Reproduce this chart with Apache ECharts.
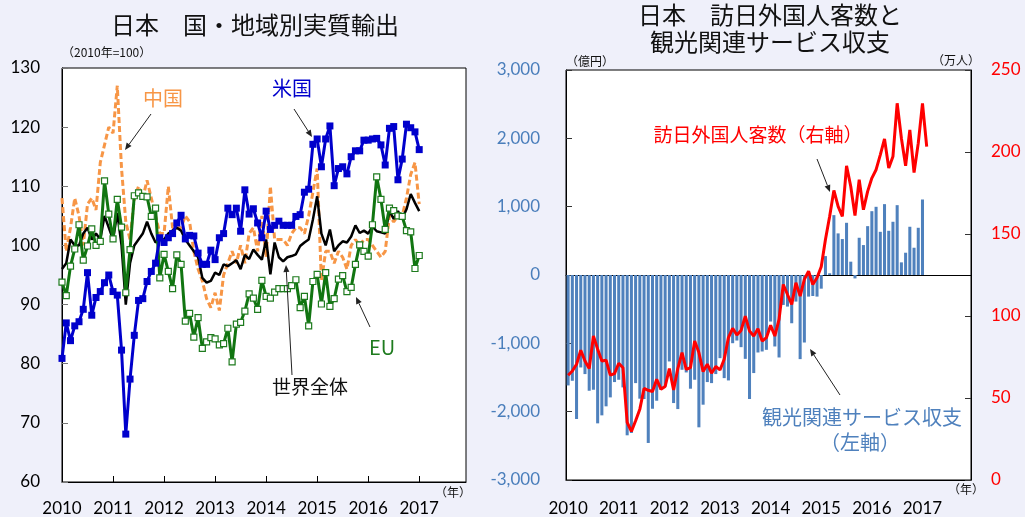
<!DOCTYPE html>
<html><head><meta charset="utf-8">
<script src="https://cdn.jsdelivr.net/npm/echarts@6/dist/echarts.min.js"></script>
<style>html,body{margin:0;padding:0;background:#eff0fa;}#c{width:1025px;height:517px;}</style>
</head><body><div id="c"></div>
<script>
// ---- data ----
const yearLabels = ['2010','2011','2012','2013','2014','2015','2016','2017'];
const months = [];
yearLabels.forEach(y => { for (let m = 1; m <= 12; m++) months.push(y + '-' + m); });

// 日本 国・地域別実質輸出 (2010年=100), monthly from 2010-01 to 2017-01
const usExports = [80.9,86.9,83.9,86.4,87.1,89.2,95.4,88.2,91.2,92.2,93.7,95.0,
  92.2,91.6,82.3,68.1,77.4,84.8,90.7,91.0,93.9,95.6,97.0,101.3,
  100.5,101.3,102.0,103.8,105.1,101.1,101.7,101.6,98.7,96.8,96.8,99.2,
  97.6,101.3,102.0,106.3,105.2,106.3,102.4,109.4,105.3,106.2,103.8,101.3,
  105.8,102.7,103.4,104.1,103.4,103.4,103.4,104.9,105.2,109.0,109.5,117.1,
  118.0,113.3,118.0,120.2,110.1,113.0,113.3,112.1,115.0,116.0,116.0,117.8,
  117.8,118.0,118.1,117.0,113.6,119.8,120.1,111.1,114.6,120.5,119.9,119.2,116.2];
const chinaExports = [108,99,103,108,105,100,107,108,106,114,117,120,
  119,127,113,104,101,108,110,108,111,108,105,102,
  102,110,103,103,103,105,104,99,96,94,91,89.5,
  92,89,95,97,99,97,100,97,102,103,99,105,
  98,110,101,101,101,100,102,103,103,102,105,109,
  113,94,99,99,97,99,98,96,100,101,100,101,
  101,100,99,98,99,105,104,105,105,108,112,114,107];
const euExports = [93.8,91.5,96.5,99.4,103.5,97.5,99.9,102.8,100.0,100.7,110.9,105.3,
  101.1,107.8,103.1,92.0,99.3,108.4,108.9,108.3,108.2,104.9,106.3,94.5,
  98.5,95.6,92.7,98.4,96.8,87.2,88.5,84.5,87.8,82.6,83.7,84.4,
  84.2,83.2,83.4,86.0,80.3,86.7,87.0,88.9,91.8,91.1,89.2,94.1,
  91.4,91.1,92.1,92.7,92.7,92.7,93.2,94.2,89.5,91.4,86.4,93.9,
  95.1,90.1,95.4,89.7,91.0,94.3,94.9,92.2,92.9,96.8,100.1,99.0,
  98.2,103.5,111.6,107.8,102.7,106.3,105.9,105.0,104.9,102.5,102.3,96.1,98.3];
const worldExports = [96,97,101,100,100,102,103,101,102,101,105,103,
  101,105.5,100,90,97,100,101,102,104,102,100.5,101,
  101,102,102.5,103,102.5,101,100,99,98,94.5,93.7,94,
  95.4,95,96.8,96.5,97,97.5,96,98.4,97.7,99.3,98.4,97.6,
  101,95.1,100.5,98,97.3,98,98.2,98.5,99.9,100.5,101,104.4,
  108.3,102,100,102.7,99,100,100.7,100.5,101.5,103.4,102.1,102.5,
  102,103.2,102.4,102.2,102,105.8,104.5,105.8,104.5,106.1,108.7,107.2,105.8];

// 観光関連サービス収支 (億円), 2010-01 to 2017-01
const tourismBalance = [-1616,-1548,-2107,-1353,-1450,-1694,-1679,-2171,-2054,-1922,-1791,-1567,
  -1533,-1645,-2346,-2312,-1582,-1810,-1815,-2458,-1956,-1840,-1679,-1630,
  -1265,-1874,-1962,-1387,-1426,-1664,-1533,-2229,-1898,-1567,-1582,-1450,
  -1217,-1509,-1543,-998,-959,-1056,-1227,-1815,-1435,-1134,-1119,-1095,
  -681,-1046,-1207,-438,-462,-706,-389,-1231,-988,-316,-307,-316,
  -200,277,25,876,609,526,764,195,-50,545,438,715,
  934,998,632,1037,647,779,1022,185,326,706,399,691,1105];
// 訪日外国人客数 (万人), 2010-01 to 2017-02
const visitors = [63.9,66.5,70.6,79.1,72.6,67.9,87.8,79.7,72.6,73.0,63.9,64.9,
  71.2,68.5,35.1,29.6,36.1,43.2,55.8,54.7,54.0,61.4,55.4,57.0,
  67.9,54.9,67.9,77.7,67.5,68.5,84.7,77.7,66.1,70.6,65.1,69.2,
  67.1,73.6,86.8,92.5,88.4,91.2,99.9,90.8,87.8,92.3,84.7,86.8,
  94.3,87.8,97.9,119.2,113.1,107.1,120.3,112.1,122.3,127.3,119.2,123.3,
  130,146.6,160.8,176.6,166.8,160.8,191.6,179.0,161.2,183.1,164.8,176.0,
  184.1,189.2,198.3,208.0,190.2,197.3,229.7,208.4,191.6,213.5,187.5,205.4,229.7,203.3];

// ---- chart ----
const JP = "'Noto Sans CJK JP', sans-serif";
const NUM = "Lato, 'Noto Sans CJK JP', sans-serif";
const chart = echarts.init(document.getElementById('c'), null, {renderer: 'canvas'});

function arrow(x1, y1, x2, y2) {
  const a = Math.atan2(y2 - y1, x2 - x1), L = 7, W = 3;
  const bx = x2 - L * Math.cos(a), by = y2 - L * Math.sin(a);
  return [
    {type: 'line', shape: {x1, y1, x2: bx, y2: by}, style: {stroke: '#222', lineWidth: 1}, z: 100},
    {type: 'polygon', shape: {points: [[x2, y2], [bx - W * Math.sin(a), by + W * Math.cos(a)], [bx + W * Math.sin(a), by - W * Math.cos(a)]]}, style: {fill: '#222'}, z: 100}
  ];
}
function txt(x, y, text, color, size, align) {
  return {type: 'text', x, y, z: 100, style: {text, fill: color, font: size + 'px ' + JP, align: align || 'center', verticalAlign: 'middle'}};
}
const yearFmt = (v, i) => (i % 12 === 0 ? yearLabels[i / 12] : '');

const option = {
  backgroundColor: '#eff0fa',
  animation: false,
  grid: [
    {left: 62, right: 559, top: 68, bottom: 34, show: true, backgroundColor: '#fff', borderColor: '#000', borderWidth: 1},
    {left: 566, right: 54, top: 70, bottom: 36, show: true, backgroundColor: '#fff', borderColor: '#000', borderWidth: 1}
  ],
  xAxis: [
    {type: 'category', gridIndex: 0, data: months, boundaryGap: false,
     axisLine: {lineStyle: {color: '#000'}},
     axisTick: {inside: true, interval: 11, length: 6, lineStyle: {color: '#000'}},
     axisLabel: {interval: 11, formatter: yearFmt, fontSize: 17, color: '#000', fontFamily: NUM, margin: 18}},
    {type: 'category', gridIndex: 1, data: months, boundaryGap: true, position: 'bottom',
     axisLine: {onZero: false, lineStyle: {color: '#000'}},
     axisTick: {show: false},
     axisLabel: {interval: 11, formatter: yearFmt, fontSize: 17, color: '#000', fontFamily: NUM, margin: 20}},
    {type: 'category', gridIndex: 1, data: months, boundaryGap: true, position: 'bottom',
     axisLine: {onZero: true, lineStyle: {color: '#000', width: 1}},
     axisTick: {inside: true, interval: 11, length: 6, lineStyle: {color: '#000'}},
     axisLabel: {show: false}}
  ],
  yAxis: [
    {type: 'value', gridIndex: 0, min: 60, max: 130, interval: 10,
     axisLine: {show: true, lineStyle: {color: '#000'}},
     axisTick: {show: true, inside: true, length: 6, lineStyle: {color: '#777'}},
     splitLine: {show: false},
     axisLabel: {fontSize: 17, color: '#000', fontFamily: NUM, margin: 22}},
    {type: 'value', gridIndex: 1, min: -3000, max: 3000, interval: 1000,
     axisLine: {show: true, lineStyle: {color: '#000'}},
     axisTick: {show: true, inside: true, length: 6, lineStyle: {color: '#333'}},
     splitLine: {show: false},
     axisLabel: {fontSize: 17, color: '#4a7ebb', fontFamily: NUM, margin: 26,
       formatter: v => v.toLocaleString('en-US')}},
    {type: 'value', gridIndex: 1, min: 0, max: 250, interval: 50, position: 'right',
     axisLine: {show: true, onZero: false, lineStyle: {color: '#000'}},
     axisTick: {show: true, inside: true, length: 6, lineStyle: {color: '#333'}},
     splitLine: {show: false},
     axisLabel: {fontSize: 17, color: '#ff0000', fontFamily: NUM, margin: 20}}
  ],
  series: [
    {name: '中国', type: 'line', xAxisIndex: 0, yAxisIndex: 0, data: chinaExports, showSymbol: false, symbol: 'none',
     lineStyle: {color: '#f79646', width: 3, type: [6, 3]}, z: 2},
    {name: '世界全体', type: 'line', xAxisIndex: 0, yAxisIndex: 0, data: worldExports, symbol: 'none',
     lineStyle: {color: '#000', width: 2.5}, z: 3},
    {name: 'EU', type: 'line', xAxisIndex: 0, yAxisIndex: 0, data: euExports, symbol: 'rect', symbolSize: 6,
     showAllSymbol: true,
     itemStyle: {color: '#fff', borderColor: '#1e7b1e', borderWidth: 1.2},
     lineStyle: {color: '#117511', width: 3}, z: 4},
    {name: '米国', type: 'line', xAxisIndex: 0, yAxisIndex: 0, data: usExports, symbol: 'rect', symbolSize: 7,
     showAllSymbol: true,
     itemStyle: {color: '#0000cc'},
     lineStyle: {color: '#0000cc', width: 3}, z: 5},
    {name: '観光関連サービス収支', type: 'bar', xAxisIndex: 1, yAxisIndex: 1, data: tourismBalance, barWidth: '72%',
     itemStyle: {color: '#4f81bd'}, z: 2},
    {name: '訪日外国人客数', type: 'line', xAxisIndex: 1, yAxisIndex: 2, data: visitors, symbol: 'none',
     lineStyle: {color: '#ff0000', width: 3}, z: 5}
  ],
  graphic: [
    txt(255, 25, '日本　国・地域別実質輸出', '#111', 24),
    txt(62, 52, '（2010年=100）', '#111', 12, 'left'),
    txt(453, 492, '（年）', '#111', 12),
    txt(770, 15, '日本　訪日外国人客数と', '#111', 24),
    txt(770, 42, '観光関連サービス収支', '#111', 24),
    txt(590, 61, '（億円）', '#111', 12),
    txt(956, 60, '（万人）', '#111', 12),
    txt(966, 489, '（年）', '#111', 12),
    txt(163, 98, '中国', '#f79646', 20),
    txt(292, 88, '米国', '#0000cc', 20),
    txt(382, 347, 'EU', '#1e7b1e', 20),
    txt(310, 387, '世界全体', '#111', 19),
    txt(758, 135, '訪日外国人客数（右軸）', '#ff0000', 19),
    txt(862, 417, '観光関連サービス収支', '#4f81bd', 20),
    txt(860, 442, '（左軸）', '#4f81bd', 20),
    ...arrow(151, 114, 125, 150),
    ...arrow(294, 109, 312, 137),
    ...arrow(370, 327, 356, 297),
    ...arrow(292, 375, 286, 265),
    ...arrow(817, 159, 830, 192),
    ...arrow(840, 395, 810, 349)
  ]
};
chart.setOption(option);
</script>
</body></html>
